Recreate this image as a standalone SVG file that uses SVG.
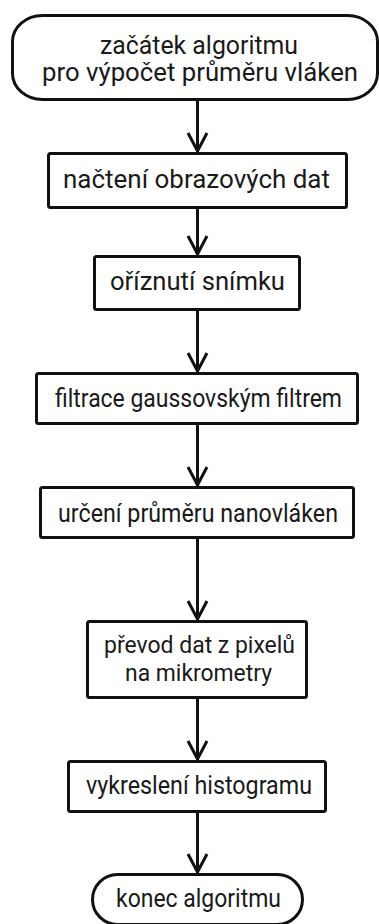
<svg xmlns="http://www.w3.org/2000/svg" width="379" height="924" viewBox="0 0 379 924">
<defs>
<style>
.n{fill:#fff;stroke:#111;stroke-width:3}
.t{font-family:Roboto,"Noto Sans",sans-serif;font-size:25px;fill:#1a1a1a;text-anchor:middle}
.s{font-size:24px}
.c{fill:none;stroke:#111;stroke-width:3}
</style>
</defs>
<rect width="379" height="924" fill="#fff"/>
<g id="connectors" class="c">
<path d="M197.5 100V152M188 133L197.5 151L207 133"/>
<path d="M197.5 208V255M188 236L197.5 254L207 236"/>
<path d="M197.5 310V372M188 353L197.5 371L207 353"/>
<path d="M197.5 424V486M188 467L197.5 485L207 467"/>
<path d="M197.5 538V620M188 601L197.5 619L207 601"/>
<path d="M197.5 698V760M188 741L197.5 759L207 741"/>
<path d="M197.5 812V873M188 854L197.5 872L207 854"/>
</g>
<g id="start">
<rect class="n" x="12.5" y="15.5" width="365" height="84" rx="30" ry="26"/>
<text class="t" x="199" y="54" textLength="198" lengthAdjust="spacingAndGlyphs">začátek algoritmu</text>
<text class="t" x="200" y="81" textLength="316" lengthAdjust="spacingAndGlyphs">pro výpočet průměru vláken</text>
</g>
<g id="load">
<rect class="n" x="48.5" y="153.5" width="298" height="54" rx="2"/>
<text class="t" x="196.5" y="188" textLength="267" lengthAdjust="spacingAndGlyphs">načtení obrazových dat</text>
</g>
<g id="crop">
<rect class="n" x="94.5" y="256.5" width="205" height="53" rx="2"/>
<text class="t" x="197.5" y="290" textLength="175" lengthAdjust="spacingAndGlyphs">oříznutí snímku</text>
</g>
<g id="filter">
<rect class="n" x="36.5" y="373.5" width="321" height="50" rx="2"/>
<text class="t" x="198.5" y="407" textLength="287" lengthAdjust="spacingAndGlyphs">filtrace gaussovským filtrem</text>
</g>
<g id="diameter">
<rect class="n" x="40.5" y="487.5" width="313" height="50" rx="2"/>
<text class="t" x="198" y="522" textLength="280" lengthAdjust="spacingAndGlyphs">určení průměru nanovláken</text>
</g>
<g id="convert">
<rect class="n" x="87.5" y="621.5" width="219" height="76" rx="2"/>
<text class="t s" x="199.5" y="653" textLength="191" lengthAdjust="spacingAndGlyphs">převod dat z pixelů</text>
<text class="t s" x="198.5" y="681" textLength="147" lengthAdjust="spacingAndGlyphs">na mikrometry</text>
</g>
<g id="histogram">
<rect class="n" x="68.5" y="761.5" width="257" height="50" rx="2"/>
<text class="t" x="199" y="794" textLength="226" lengthAdjust="spacingAndGlyphs">vykreslení histogramu</text>
</g>
<g id="end">
<rect class="n" x="92.5" y="874.5" width="210" height="50" rx="25" ry="25"/>
<text class="t" x="198.5" y="907" textLength="165" lengthAdjust="spacingAndGlyphs">konec algoritmu</text>
</g>
</svg>
